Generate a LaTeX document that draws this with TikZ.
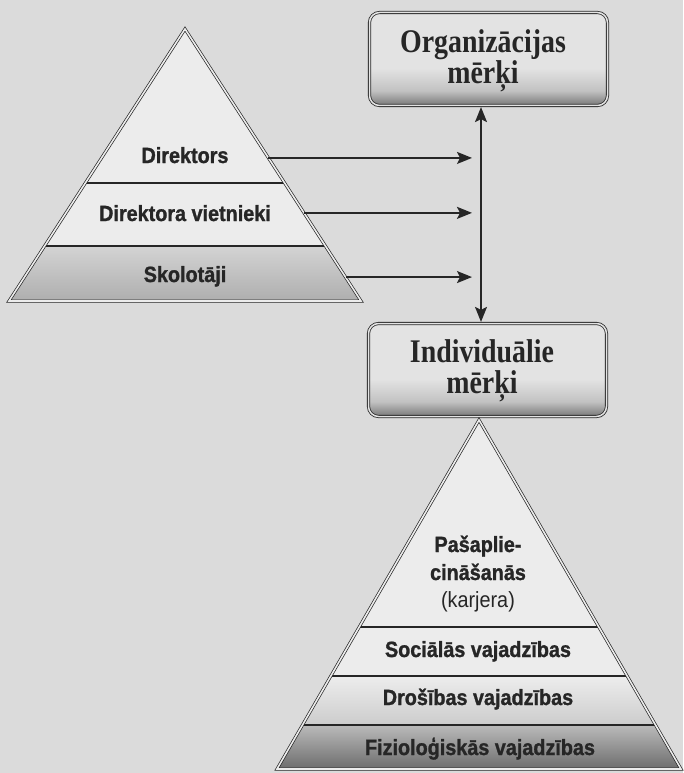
\documentclass[tikz,border=0pt]{standalone}
\usepackage{fontspec}
\setmainfont{Liberation Serif}
\newfontfamily\layerfont[FakeStretch=0.9, BoldFeatures={FakeBold=1.2}]{Liberation Sans}
\newfontfamily\goalfont[FakeStretch=0.845]{Liberation Serif}
\usetikzlibrary{arrows.meta,calc}

\definecolor{paper}{gray}{0.86}
\definecolor{layerlight}{gray}{0.925}
\definecolor{ink}{gray}{0.15}
\definecolor{boxlight}{gray}{0.89}
\definecolor{boxmid}{gray}{0.76}
\definecolor{boxdark}{gray}{0.47}

% light upper part, darkening towards the lower edge
\pgfdeclareverticalshading{goalshade}{100bp}{%
  color(0bp)=(boxdark); color(25bp)=(boxdark); color(33bp)=(boxmid);
  color(45bp)=(boxlight); color(75bp)=(boxlight); color(100bp)=(boxlight)}

\tikzset{
  pyredge/.style={draw=ink, line width=0.7pt, double=layerlight,
    double distance=1.6pt},
  layerline/.style={draw=ink, line width=1.3pt},
  layertext/.style={anchor=base, inner sep=0pt, text=ink,
    font=\layerfont\fontsize{22}{26}\selectfont\bfseries},
  layertextplain/.style={anchor=base, inner sep=0pt, text=ink,
    font=\layerfont\fontsize{22}{26}\selectfont},
  goalbox/.style={draw=ink, line width=0.8pt, double=boxlight,
    double distance=1.5pt, rounded corners=10pt, shading=goalshade,
    minimum width=238pt, minimum height=93pt, inner sep=0pt},
  goaltext/.style={anchor=base, inner sep=0pt, text=ink,
    font=\goalfont\fontsize{33}{33}\selectfont\bfseries},
  arr/.style={draw=ink, line width=1.8pt,
    -{Stealth[length=15pt, width=12pt, inset=3pt]}},
  arr2/.style={draw=ink, line width=1.6pt,
    {Stealth[length=15pt, width=12pt, inset=3pt]}-{Stealth[length=15pt, width=12pt, inset=3pt]}},
}

\begin{document}
\begin{tikzpicture}[x=1pt, y=-1pt]
\fill[paper] (0,0) rectangle (683,773);
\useasboundingbox (0,0) rectangle (683,773);

% ---------- school hierarchy pyramid ----------
\coordinate (lA) at (185,29);
\coordinate (lL) at (9,301);
\coordinate (lR) at (361,301);
\begin{scope}
  \clip (lA) -- (lL) -- (lR) -- cycle;
  \fill[layerlight] (0,0) rectangle (400,246);
  \shade[top color=black!17, bottom color=black!32] (0,246) rectangle (400,302);
  \draw[layerline] (0,183) -- (400,183);
  \draw[layerline] (0,246) -- (400,246);
\end{scope}
\draw[pyredge] (lA) -- (lL) -- (lR) -- cycle;

\node[layertext] (dir)  at (185,163) {Direktors};
\node[layertext] (viet) at (185,221) {Direktora vietnieki};
\node[layertext] (skol) at (185,282) {Skolotāji};

% ---------- goal boxes ----------
\node[goalbox] (org) at (488.5,59) {};
\node[goalbox] (ind) at (487.5,370) {};
\node[goaltext] (orgA) at (483,53) {Organizācijas};
\node[goaltext] (orgB) at (483,84) {mērķi};
\node[goaltext] (indA) at (482,362) {Individuālie};
\node[goaltext] (indB) at (482,393) {mērķi};

% ---------- arrows ----------
\coordinate (axis) at (481,200);
\coordinate (tip) at (472,200);
\coordinate (s1) at ($(lA)!0.474!(lR)$);
\coordinate (s2) at ($(lA)!0.676!(lR)$);
\coordinate (s3) at ($(lA)!0.912!(lR)$);
\draw[arr] (s1) -- (s1 -| tip);
\draw[arr] (s2) -- (s2 -| tip);
\draw[arr] (s3) -- (s3 -| tip);
\draw[arr2] ([yshift=-1.2pt]org.south -| axis) -- ([yshift=1.2pt]ind.north -| axis);

% ---------- needs pyramid ----------
\coordinate (rA) at (479,420);
\coordinate (rL) at (277,769);
\coordinate (rR) at (681,769);
\begin{scope}
  \clip (rA) -- (rL) -- (rR) -- cycle;
  \fill[layerlight] (250,400) rectangle (683,676);
  \shade[top color=black!7, bottom color=black!20] (250,676) rectangle (683,725);
  \shade[top color=black!27, bottom color=black!58] (250,725) rectangle (683,770);
  \draw[layerline] (250,627) -- (683,627);
  \draw[layerline] (250,676) -- (683,676);
  \draw[layerline] (250,725) -- (683,725);
\end{scope}
\draw[pyredge] (rA) -- (rL) -- (rR) -- cycle;

\node[layertext] (selfA) at (478,552) {Pašaplie-};
\node[layertext] (selfB) at (478,580) {cināšanās};
\node[layertextplain] (selfC) at (478,607) {(karjera)};
\node[layertext] (soc)  at (478,657) {Sociālās vajadzības};
\node[layertext] (dros) at (478,705) {Drošības vajadzības};
\node[layertext] (fiz)  at (480,755) {Fizioloģiskās vajadzības};
\end{tikzpicture}
\end{document}
